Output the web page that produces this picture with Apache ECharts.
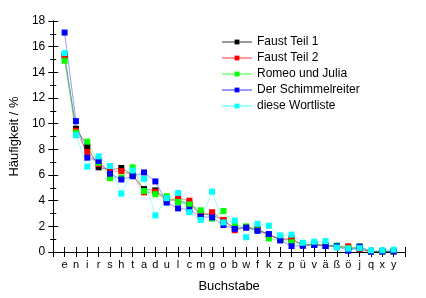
<!DOCTYPE html>
<html><head><meta charset="utf-8">
<script src="https://cdn.jsdelivr.net/npm/echarts@6/dist/echarts.min.js"></script>
<style>html,body{margin:0;padding:0;background:#fff}#c{width:426px;height:298px}</style>
</head><body><div id="c"></div>
<script>
const letters = ['e','n','i','r','s','h','t','a','d','u','l','c','m','g','o','b','w','f','k','z','p','ü','v','ä','ß','ö','j','q','x','y'];
const faust1 = [15.3,9.6,8.25,6.6,6.4,6.55,6.0,4.9,4.8,4.1,4.0,3.75,2.95,2.9,2.45,1.85,1.95,1.8,1.35,1.0,0.97,0.55,0.6,0.5,0.45,0.3,0.2,0.03,0.05,0.05];
const faust2 = [15.25,9.45,7.8,6.85,6.3,6.3,6.0,4.65,4.7,3.95,4.2,4.0,2.85,3.1,2.5,1.7,1.9,1.75,1.3,1.0,1.05,0.55,0.6,0.5,0.45,0.44,0.25,0.03,0.05,0.05];
const romeo = [14.9,9.3,8.6,6.95,5.75,5.8,6.6,4.75,4.5,4.35,3.9,3.7,3.25,2.6,3.2,2.1,2.0,1.7,1.05,0.95,0.75,0.55,0.6,0.5,0.5,0.3,0.44,0.03,0.05,0.05];
const schimmel = [17.1,10.2,7.35,7.1,6.1,5.65,5.9,6.2,5.5,3.85,3.4,3.3,2.75,2.7,2.1,1.8,1.9,1.65,1.4,0.9,0.46,0.48,0.55,0.46,0.45,0.1,0.42,0.03,0.05,0.05];
const wortliste = [15.5,9.1,6.65,7.45,6.7,4.55,6.35,5.7,2.85,4.2,4.6,3.1,2.5,4.7,2.3,2.45,1.15,2.2,2.05,1.3,1.35,0.72,0.8,0.85,0.35,0.26,0.3,0.13,0.13,0.18];
const seriesNames = ['Faust Teil 1','Faust Teil 2','Romeo und Julia','Der Schimmelreiter','diese Wortliste'];
const seriesData = [faust1, faust2, romeo, schimmel, wortliste];
const colors = ['#000000','#ff0000','#00ff00','#0000ff','#00ffff'];

const font = '"Liberation Sans", Arial, sans-serif';
const chart = echarts.init(document.getElementById('c'), null, {renderer:'canvas'});
const axLine = {show:true, lineStyle:{color:'#000', width:1}};
chart.setOption({
  animation:false,
  backgroundColor:'#fff',
  textStyle:{fontFamily:font},
  grid:{left:47, right:21, top:21, bottom:43, containLabel:false},
  legend:{
    orient:'vertical', left:216, top:31, itemWidth:30, itemHeight:6, itemGap:4,
    textStyle:{fontFamily:font, fontSize:12, color:'#000'},
    data:seriesNames
  },
  xAxis:[{
    type:'value', min:0, max:31, interval:1, position:'bottom',
    name:'Buchstabe', nameLocation:'middle', nameGap:28,
    nameTextStyle:{fontFamily:font, fontSize:13, color:'#000'},
    axisLine:axLine, splitLine:{show:false},
    axisTick:{show:true, inside:true, length:5, lineStyle:{color:'#000'}},
    axisLabel:{fontFamily:font, fontSize:11, color:'#000', margin:7,
      formatter:v => (v>=1 && v<=letters.length) ? letters[v-1] : ''}
  },{
    type:'value', min:0, max:31, interval:1, position:'top',
    axisLine:axLine, splitLine:{show:false},
    axisTick:{show:true, inside:true, length:5, lineStyle:{color:'#000'}},
    axisLabel:{show:false}
  }],
  yAxis:[{
    type:'value', min:0, max:18, interval:2, position:'left',
    name:'Häufigkeit / %', nameLocation:'middle', nameGap:27,
    nameTextStyle:{fontFamily:font, fontSize:13, color:'#000'},
    axisLine:axLine, splitLine:{show:false},
    axisTick:{show:true, inside:true, length:5, lineStyle:{color:'#000'}},
    minorTick:{show:true, splitNumber:2, length:3, lineStyle:{color:'#000'}},
    axisLabel:{fontFamily:font, fontSize:12, color:'#000', margin:8}
  },{
    type:'value', min:0, max:18, interval:2, position:'right',
    axisLine:axLine, splitLine:{show:false},
    axisTick:{show:true, inside:true, length:5, lineStyle:{color:'#000'}},
    minorTick:{show:true, splitNumber:2, length:3, lineStyle:{color:'#000'}},
    axisLabel:{show:false}
  }],
  series: seriesNames.map((n,k)=>({
    name:n, type:'line', xAxisIndex:0, yAxisIndex:0,
    data: letters.map((l,i)=>[i+1, seriesData[k][i]]),
    symbol:'rect', symbolSize:6, showSymbol:true,
    itemStyle:{color:colors[k]},
    lineStyle:{color:colors[k], width:1, opacity:0.4}
  }))
});
</script></body></html>
